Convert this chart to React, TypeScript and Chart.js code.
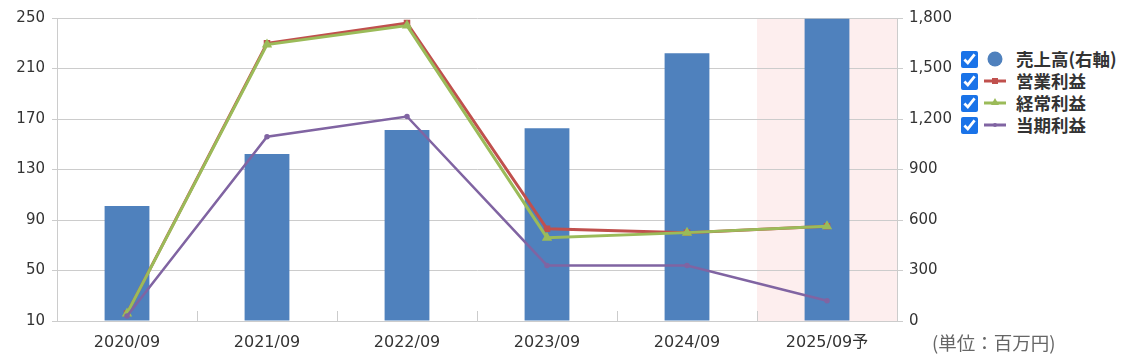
import React, { useEffect, useRef } from "react";
import { Chart, registerables } from "chart.js";

Chart.register(...registerables);

// ---- data ----
const categories = ["2020/09", "2021/09", "2022/09", "2023/09", "2024/09", "2025/09予"];
const salesRight = [683, 992, 1135, 1145, 1590, 1795]; // 売上高 (右軸)
const operatingProfit = [16, 230, 246, 83, 80, 85]; // 営業利益
const ordinaryProfit = [16, 229, 244, 76, 80, 85]; // 経常利益
const netProfit = [14, 156, 172, 54, 54, 26]; // 当期利益
const leftTicks = [10, 50, 90, 130, 170, 210, 250];
const rightTicks = [0, 300, 600, 900, 1200, 1500, 1800];
const legendLabels = ["売上高(右軸)", "営業利益", "経常利益", "当期利益"];
const unitLabel = "(単位：百万円)";
const forecastIndex = 5;

const BLUE = "#4f81bd";
const RED = "#c0504d";
const GREEN = "#9bbb59";
const PURPLE = "#8064a2";
const GRID = "#cccccc";
const FONT = "'DejaVu Sans', 'Noto Sans CJK JP', sans-serif";
const CJK = "'Noto Sans CJK JP', 'DejaVu Sans', sans-serif";

const bandPlugin = {
  id: "forecastBand",
  beforeDraw(chart: any) {
    const { ctx, chartArea } = chart;
    const xs = chart.scales.x;
    if (!chartArea || !xs) return;
    const catW = (chartArea.right - chartArea.left) / categories.length;
    const cx = xs.getPixelForValue(forecastIndex);
    ctx.save();
    ctx.fillStyle = "#fdeeee";
    ctx.fillRect(cx - catW / 2, chartArea.top, catW, chartArea.bottom - chartArea.top);
    ctx.restore();
  },
  beforeDatasetsDraw(chart: any) {
    const { ctx, chartArea } = chart;
    const catW = (chartArea.right - chartArea.left) / categories.length;
    ctx.save();
    ctx.strokeStyle = GRID;
    ctx.lineWidth = 1;
    for (let i = 1; i < categories.length; i++) {
      const x = Math.round(chartArea.left + i * catW) + 0.5;
      ctx.beginPath();
      ctx.moveTo(x, chartArea.bottom - 10);
      ctx.lineTo(x, chartArea.bottom);
      ctx.stroke();
    }
    ctx.restore();
  },
};

function ChartCanvas() {
  const ref = useRef<HTMLCanvasElement | null>(null);
  useEffect(() => {
    if (!ref.current) return;
    const chart = new Chart(ref.current, {
      type: "bar",
      data: {
        labels: categories,
        datasets: [
          {
            type: "line",
            label: legendLabels[3],
            data: netProfit,
            yAxisID: "y",
            borderColor: PURPLE,
            backgroundColor: PURPLE,
            borderWidth: 2.5,
            pointStyle: "circle",
            pointRadius: 1.5,
            tension: 0,
            order: 1,
          } as any,
          {
            type: "line",
            label: legendLabels[2],
            data: ordinaryProfit,
            yAxisID: "y",
            borderColor: GREEN,
            backgroundColor: GREEN,
            borderWidth: 3,
            pointStyle: "triangle",
            pointRadius: 3,
            tension: 0,
            order: 2,
          } as any,
          {
            type: "line",
            label: legendLabels[1],
            data: operatingProfit,
            yAxisID: "y",
            borderColor: RED,
            backgroundColor: RED,
            borderWidth: 3,
            pointStyle: "rect",
            pointRadius: 2.5,
            tension: 0,
            order: 3,
          } as any,
          {
            type: "bar",
            label: legendLabels[0],
            data: salesRight,
            yAxisID: "y1",
            backgroundColor: BLUE,
            barPercentage: 0.32,
            categoryPercentage: 1,
            order: 4,
          } as any,
        ],
      },
      options: {
        responsive: false,
        animation: false,
        devicePixelRatio: 1,
        layout: { padding: { top: 18, left: 0, right: 0, bottom: 0 } },
        plugins: { legend: { display: false }, tooltip: { enabled: false } },
        scales: {
          x: {
            offset: true,
            grid: { display: false, drawTicks: false },
            border: { display: true, color: GRID, width: 1 },
            ticks: { color: "#333", font: { family: FONT, size: 16 }, padding: 12, maxRotation: 0 },
            afterFit(s: any) {
              s.height = 34;
            },
          },
          y: {
            position: "left",
            min: 10,
            max: 250,
            afterBuildTicks(s: any) {
              s.ticks = leftTicks.map((v) => ({ value: v }));
            },
            grid: { color: GRID, tickLength: 5, lineWidth: 1 },
            border: { display: true, color: GRID },
            ticks: { color: "#333", font: { family: FONT, size: 15 }, padding: 7 },
            afterFit(s: any) {
              s.width = 57;
            },
          },
          y1: {
            position: "right",
            min: 0,
            max: 1800,
            afterBuildTicks(s: any) {
              s.ticks = rightTicks.map((v) => ({ value: v }));
            },
            grid: { drawOnChartArea: false, color: GRID, tickLength: 6 },
            border: { display: true, color: GRID },
            ticks: {
              color: "#333",
              font: { family: FONT, size: 15 },
              padding: 6,
              callback: (v: any) => Number(v).toLocaleString("en-US"),
            },
            afterFit(s: any) {
              s.width = 63;
            },
          },
        },
      } as any,
      plugins: [bandPlugin],
    });
    return () => chart.destroy();
  }, []);
  return <canvas ref={ref} width={960} height={355} style={{ display: "block" }} />;
}

function Marker({ idx }: { idx: number }) {
  if (idx === 0) {
    return (
      <svg width={26} height={18}>
        <circle cx={13} cy={9} r={7.5} fill={BLUE} />
      </svg>
    );
  }
  const color = idx === 1 ? RED : idx === 2 ? GREEN : PURPLE;
  return (
    <svg width={26} height={18}>
      <line x1={2} y1={9} x2={24} y2={9} stroke={color} strokeWidth={3} />
      {idx === 1 && <rect x={10} y={6} width={6} height={6} fill={color} />}
      {idx === 2 && <polygon points="13,4 17,11 9,11" fill={color} />}
      {idx === 3 && <circle cx={13} cy={9} r={2} fill={color} />}
    </svg>
  );
}

export default function App() {
  const rowCenters = [59, 81, 103, 125];
  return (
    <div
      style={{
        position: "fixed",
        left: 0,
        top: 0,
        width: 1123,
        height: 355,
        background: "#ffffff",
        overflow: "hidden",
      }}
    >
      <ChartCanvas />
      {legendLabels.map((lab, i) => (
        <div
          key={lab}
          style={{
            position: "absolute",
            left: 961,
            top: rowCenters[i] - 10,
            height: 20,
            display: "flex",
            alignItems: "center",
            whiteSpace: "nowrap",
          }}
        >
          <input
            type="checkbox"
            checked
            readOnly
            style={{ width: 17, height: 17, margin: 0, accentColor: "#1a73e8" }}
          />
          <span style={{ marginLeft: 4, display: "flex" }}>
            <Marker idx={i} />
          </span>
          <span
            style={{
              marginLeft: 8,
              fontFamily: CJK,
              fontWeight: 700,
              fontSize: 17.5,
              color: "#333",
              lineHeight: "20px",
            }}
          >
            {lab}
          </span>
        </div>
      ))}
      <div
        style={{
          position: "absolute",
          left: 932,
          top: 330,
          fontFamily: CJK,
          fontSize: 18.5,
          color: "#666",
          lineHeight: "24px",
          whiteSpace: "nowrap",
        }}
      >
        {unitLabel}
      </div>
    </div>
  );
}
